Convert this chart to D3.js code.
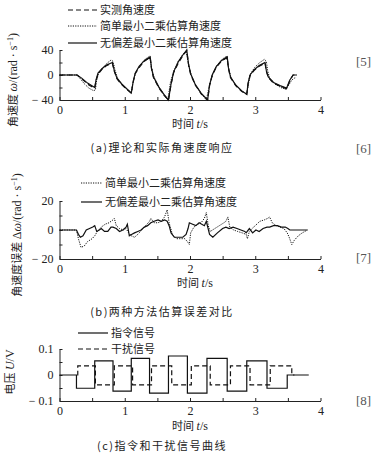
<!DOCTYPE html>
<html>
<head>
<meta charset="utf-8">
<script src="https://cdn.jsdelivr.net/npm/d3@7"></script>
<style>
  body { margin: 0; background: #fff; }
  svg { display: block; }
  .tick text { font-family: "Liberation Serif", serif; font-size: 12px; fill: #222; }
  .cn { font-family: "Noto Sans CJK SC", sans-serif; font-size: 11px; fill: #222; }
  .ref { font-family: "Liberation Serif", serif; font-size: 13px; fill: #555; }
</style>
</head>
<body>
<div id="chart"></div>
<script>
// (a) angular velocity, rad/s  [time, value]
const measuredOmega = [[0,0],[0.27,0],[0.35,-7],[0.45,-16],[0.54,-21],
  [0.56,-9],[0.59,1],[0.65,9],[0.72,15],[0.81,19],
  [0.84,6],[0.88,-6],[0.95,-15],[1.03,-23],[1.10,-29],
  [1.13,-11],[1.16,2],[1.22,12],[1.30,22],[1.39,28],
  [1.41,10],[1.44,-4],[1.52,-20],[1.60,-32],[1.67,-40],
  [1.71,-15],[1.75,4],[1.82,19],[1.89,31],[1.95,39],
  [1.98,15],[2.01,1],[2.08,-16],[2.17,-30],[2.27,-40],
  [2.30,-17],[2.34,-1],[2.40,12],[2.48,22],[2.57,28],
  [2.59,10],[2.62,-4],[2.70,-17],[2.79,-26],[2.87,-31],
  [2.89,-14],[2.92,-1],[2.98,7],[3.06,14],[3.15,19],
  [3.17,6],[3.20,-4],[3.28,-13],[3.38,-18],[3.48,-22],
  [3.53,-9],[3.58,0],[3.64,0]];
const simpleOmega = [[0,0],[0.27,0],[0.32,-6],[0.38,-14],[0.45,-21],[0.52,-25],[0.55,-24],
  [0.57,-8],[0.60,3],[0.66,11],[0.73,19],[0.79,24],[0.82,22],
  [0.85,8],[0.89,-5],[0.96,-15],[1.04,-23],[1.10,-28],
  [1.13,-10],[1.17,4],[1.23,15],[1.31,25],[1.38,30],
  [1.41,12],[1.45,-4],[1.53,-20],[1.61,-33],[1.66,-40],
  [1.70,-12],[1.75,6],[1.82,22],[1.89,33],[1.94,38],
  [1.98,15],[2.02,0],[2.09,-17],[2.18,-31],[2.25,-40],
  [2.30,-15],[2.35,2],[2.41,15],[2.49,25],[2.56,30],
  [2.59,12],[2.63,-5],[2.71,-17],[2.80,-26],[2.87,-30],
  [2.90,-12],[2.93,2],[2.99,12],[3.07,20],[3.14,25],[3.17,22],
  [3.19,7],[3.22,-5],[3.30,-14],[3.39,-20],[3.47,-23],
  [3.52,-15],[3.56,-8],[3.60,-5],[3.63,-4]];
const unbiasedOmega = [[0,0],[0.27,0],[0.34,-5],[0.43,-13],[0.54,-20],
  [0.56,-8],[0.59,3],[0.65,10],[0.72,16],[0.81,20],
  [0.84,7],[0.88,-5],[0.95,-14],[1.03,-22],[1.10,-29],
  [1.13,-10],[1.16,3],[1.22,14],[1.30,23],[1.39,29],
  [1.41,11],[1.44,-3],[1.52,-19],[1.60,-31],[1.67,-40],
  [1.71,-14],[1.75,5],[1.82,21],[1.89,32],[1.95,40],
  [1.98,16],[2.01,2],[2.08,-15],[2.17,-29],[2.27,-40],
  [2.30,-16],[2.34,0],[2.40,13],[2.48,23],[2.57,29],
  [2.59,11],[2.62,-3],[2.70,-16],[2.79,-25],[2.87,-31],
  [2.89,-13],[2.92,0],[2.98,8],[3.06,15],[3.15,20],
  [3.17,7],[3.20,-3],[3.28,-12],[3.38,-17],[3.48,-21],
  [3.53,-8],[3.58,0],[3.64,0]];

// (b) estimation error, rad/s
const simpleError = [[0,0],[0.26,0],[0.29,-6],[0.33,-12],[0.38,-11],[0.43,-8],[0.50,-6],[0.54,-4],
  [0.58,-1],[0.64,2],[0.70,4],[0.76,5],[0.82,7],[0.84,8],[0.87,3],[0.92,1],[0.98,0],[1.02,1],
  [1.06,-2],[1.10,-4],[1.15,-5],[1.20,-3],[1.26,0],[1.32,3],[1.38,6],[1.40,8],[1.45,5],[1.51,5],
  [1.56,6],[1.61,9],[1.65,14],[1.68,5],[1.73,-3],[1.79,-6],[1.86,-6],[1.92,-6],[1.96,-8],[1.99,-10],
  [2.01,-2],[2.06,2],[2.12,4],[2.17,5],[2.22,8],[2.25,12],[2.28,3],[2.31,-1],[2.38,1],[2.45,3],
  [2.52,5],[2.55,6],[2.58,9],[2.61,2],[2.67,0],[2.73,-1],[2.80,-2],[2.86,-3],[2.88,-6],[2.91,-1],
  [2.95,1],[3.00,3],[3.07,6],[3.14,7],[3.19,8],[3.22,9],[3.26,5],[3.32,3],[3.38,2],[3.44,1],
  [3.49,-2],[3.52,-5],[3.56,-10],[3.60,-7],[3.66,-4],[3.72,-2],[3.80,0]];
const unbiasedError = [[0,0],[0.26,0],[0.29,-3],[0.32,-5],[0.36,-4],[0.41,0],[0.46,1],[0.51,2],
  [0.54,3],[0.57,-1],[0.61,0],[0.64,1],[0.69,-1],[0.74,-1],[0.79,2],[0.82,2],[0.87,1],[0.92,-1],
  [0.97,0],[1.02,2],[1.04,4],[1.07,-4],[1.11,-3],[1.15,-2],[1.20,-1],[1.25,0],[1.30,2],[1.35,3],
  [1.40,5],[1.45,6],[1.51,7],[1.56,6],[1.61,7],[1.65,6],[1.68,3],[1.71,-2],[1.76,-5],[1.82,-5],
  [1.89,-5],[1.94,-3],[1.97,1],[1.99,5],[2.04,4],[2.09,3],[2.14,5],[2.18,4],[2.22,3],[2.25,6],
  [2.30,-3],[2.35,-5],[2.42,-2],[2.50,1],[2.55,2],[2.60,1],[2.66,2],[2.72,1],[2.78,0],[2.84,-1],
  [2.86,-2],[2.91,1],[2.96,-2],[3.01,0],[3.06,-1],[3.12,1],[3.18,2],[3.22,2],[3.28,3],[3.34,3],
  [3.40,2],[3.46,2],[3.50,1],[3.53,0],[3.80,0]];

// (c) voltage steps, V  [switch time, level]
const commandSignal = [[0,0],[0.26,-0.051],[0.54,0.054],[0.82,-0.062],[1.10,0.064],[1.38,-0.070],
  [1.67,0.073],[1.96,-0.070],[2.26,0.064],[2.57,-0.062],[2.87,0.054],[3.18,-0.051],[3.49,0],[3.82,0]];
const disturbSignal = [[0.27,0],[0.28,0.035],[0.55,-0.038],[0.84,0.035],[1.12,-0.038],[1.41,0.035],
  [1.72,-0.038],[2.02,0.035],[2.31,-0.038],[2.62,0.035],[2.92,-0.038],[3.23,0.035],[3.56,0],[3.60,0]];

const xTicks = [0, 0.5, 1, 1.5, 2, 2.5, 3, 3.5, 4];
const xLabels = [0, 1, 2, 3, 4];

const W = 377, H = 457;
const svg = d3.select("#chart").append("svg").attr("width", W).attr("height", H);

const x = d3.scaleLinear().domain([0, 4]).range([59.5, 320.5]);

const styles = {
  dashed: "5,3",
  dotted: "1.2,1.2",
  solid: null
};

function panel(cfg) {
  const y = d3.scaleLinear().domain(cfg.yDomain).range(cfg.yRange);
  const g = svg.append("g");

  g.append("g")
    .attr("transform", `translate(0,${cfg.yRange[0]})`)
    .call(d3.axisBottom(x).tickValues(xTicks).tickSizeInner(-3).tickSizeOuter(0).tickPadding(5)
      .tickFormat(d => xLabels.includes(d) ? d : ""));

  g.append("g")
    .attr("transform", `translate(${x(0)},0)`)
    .call(d3.axisLeft(y).tickValues(cfg.yTicks).tickSizeInner(-3).tickSizeOuter(0).tickPadding(6)
      .tickFormat(d => cfg.yLabels.has(d) ? cfg.yLabels.get(d) : ""));

  g.selectAll(".domain, .tick line").attr("stroke", "#222").attr("stroke-width", 1);

  cfg.series.forEach(s => {
    g.append("path")
      .datum(s.data)
      .attr("fill", "none")
      .attr("stroke", "#111")
      .attr("stroke-width", s.style === "dotted" ? 1 : 1.2)
      .attr("stroke-dasharray", styles[s.style])
      .attr("d", d3.line().curve(cfg.curve || d3.curveLinear)
        .x(d => x(d[0])).y(d => y(d[1])));
  });

  // legend
  cfg.series.filter(s => s.name).forEach((s, i) => {
    const ly = cfg.legend.y[i];
    g.append("line")
      .attr("x1", cfg.legend.x1).attr("x2", cfg.legend.x2)
      .attr("y1", ly).attr("y2", ly)
      .attr("stroke", "#111").attr("stroke-width", s.style === "dotted" ? 1 : 1.2)
      .attr("stroke-dasharray", styles[s.style]);
    g.append("text").attr("class", "cn")
      .attr("x", cfg.legend.x2 + 3).attr("y", ly + 4)
      .text(s.name);
  });

  // x title
  const xt = g.append("text").attr("class", "cn")
    .attr("x", cfg.xTitle[0]).attr("y", cfg.xTitle[1])
    .attr("text-anchor", "middle");
  xt.append("tspan").text("时间 ");
  xt.append("tspan").style("font-family", "Liberation Serif").style("font-style", "italic")
    .style("font-size", "12px").text("t");
  xt.append("tspan").style("font-family", "Liberation Serif").style("font-size", "12px").text("/s");

  // y title
  const yt = g.append("text").attr("class", "cn")
    .attr("transform", `translate(${cfg.yTitle.x},${cfg.yTitle.y}) rotate(-90)`)
    .attr("text-anchor", "middle");
  cfg.yTitle.parts.forEach(p => {
    const t = yt.append("tspan").text(p.t);
    if (p.serif) t.style("font-family", "Liberation Serif").style("font-size", "12px");
    if (p.it) t.style("font-style", "italic");
    if (p.sup) t.attr("baseline-shift", "super").style("font-size", "8px");
  });

  // caption
  g.append("text").attr("class", "cn")
    .attr("x", 162).attr("y", cfg.caption[1])
    .attr("text-anchor", "middle")
    .style("letter-spacing", "1.5px")
    .text(cfg.caption[0]);
}

panel({
  yDomain: [-40, 40], yRange: [100, 50],
  yTicks: [-40, -20, 0, 20, 40],
  yLabels: new Map([[40, "40"], [0, "0"], [-40, "− 40"]]),
  series: [
    {data: measuredOmega, style: "dashed", name: "实测角速度"},
    {data: simpleOmega, style: "dotted", name: "简单最小二乘估算角速度"},
    {data: unbiasedOmega, style: "solid", name: "无偏差最小二乘估算角速度"}
  ],
  legend: {x1: 68, x2: 97, y: [10, 26, 43]},
  xTitle: [190, 128],
  yTitle: {x: 17, y: 80, parts: [
    {t: "角速度 "}, {t: "ω", serif: true, it: true}, {t: "/(rad · s", serif: true},
    {t: "−1", serif: true, sup: true}, {t: ")", serif: true}]},
  caption: ["(a)理论和实际角速度响应", 152]
});

panel({
  yDomain: [-20, 20], yRange: [259, 201],
  yTicks: [-20, -10, 0, 10, 20],
  yLabels: new Map([[20, "20"], [0, "0"], [-20, "− 20"]]),
  series: [
    {data: simpleError, style: "dotted", name: "简单最小二乘估算角速度"},
    {data: unbiasedError, style: "solid", name: "无偏差最小二乘估算角速度"}
  ],
  legend: {x1: 81, x2: 102, y: [183, 202]},
  xTitle: [195, 287],
  yTitle: {x: 21, y: 235, parts: [
    {t: "角速度误差 "}, {t: "Δ", serif: true}, {t: "ω", serif: true, it: true}, {t: "/(rad · s", serif: true},
    {t: "−1", serif: true, sup: true}, {t: ")", serif: true}]},
  caption: ["(b)两种方法估算误差对比", 316]
});

panel({
  yDomain: [-0.1, 0.1], yRange: [401, 349],
  yTicks: [-0.1, -0.05, 0, 0.05, 0.1],
  yLabels: new Map([[0.1, "0.1"], [0, "0"], [-0.1, "− 0.1"]]),
  curve: d3.curveStepAfter,
  series: [
    {data: commandSignal, style: "solid", name: "指令信号"},
    {data: disturbSignal, style: "dashed", name: "干扰信号"}
  ],
  legend: {x1: 78, x2: 108, y: [333, 349]},
  xTitle: [190, 430],
  yTitle: {x: 14, y: 372, parts: [
    {t: "电压 "}, {t: "U", serif: true, it: true}, {t: "/V", serif: true}]},
  caption: ["(c)指令和干扰信号曲线", 450]
});

// reference markers at right margin
[["[5]", 66], ["[6]", 153], ["[7]", 262], ["[8]", 405]].forEach(r => {
  svg.append("text").attr("class", "ref").attr("x", 356).attr("y", r[1]).text(r[0]);
});
</script>
</body>
</html>
